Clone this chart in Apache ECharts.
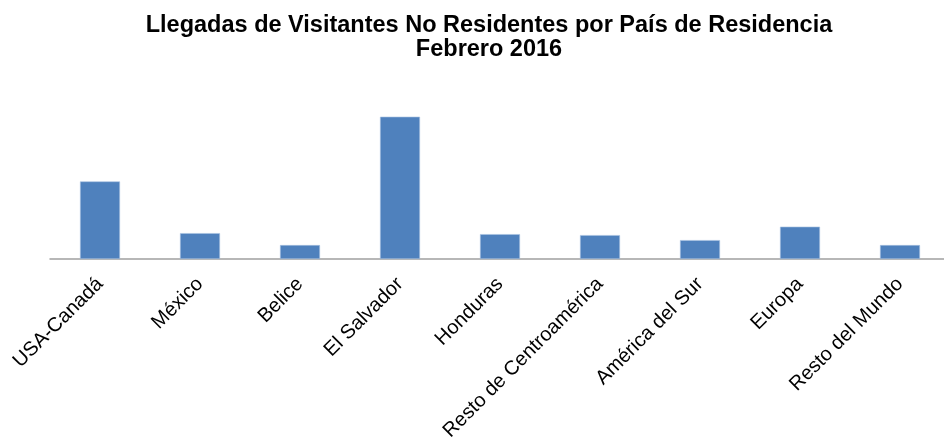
<!DOCTYPE html>
<html><head><meta charset="utf-8">
<script src="https://cdn.jsdelivr.net/npm/echarts@6/dist/echarts.min.js"></script>
<style>html,body{margin:0;padding:0;background:#fff}#c{width:944px;height:437px}</style>
</head><body><div id="c"></div>
<script>
const categories = ["USA-Canadá","México","Belice","El Salvador","Honduras","Resto de Centroamérica","América del Sur","Europa","Resto del Mundo"];
const visitors = [31200, 10400, 5600, 57200, 10000, 9600, 7600, 13000, 5600];
const titleLines = ["Llegadas de Visitantes No Residentes por País de Residencia", "Febrero 2016"];

const chart = echarts.init(document.getElementById('c'));
chart.setOption({
  animation: false,
  title: {
    text: titleLines.join('\n'),
    left: 489, top: 14, padding: 0, textAlign: 'center',
    textStyle: {fontFamily: 'Liberation Sans, Arial, sans-serif', fontWeight: 'bold', fontSize: 23.5, lineHeight: 24, color: '#000'}
  },
  grid: {left: 50, width: 900, top: 60, bottom: 178, outerBoundsMode: 'none'},
  xAxis: {
    type: 'category', data: categories,
    axisLine: {lineStyle: {color: '#a0a0a0', width: 1.5}},
    axisTick: {show: false},
    axisLabel: {rotate: 45, interval: 0, margin: 22, fontFamily: 'Liberation Sans, Arial, sans-serif', fontSize: 20, color: '#000'}
  },
  yAxis: {
    type: 'value', min: 0, max: 80000,
    show: false, splitLine: {show: false}
  },
  series: [{
    type: 'bar', data: visitors, barWidth: 40,
    itemStyle: {color: '#4f81bd', borderColor: '#a9c2e2', borderWidth: 0.6}
  }]
});
</script></body></html>
